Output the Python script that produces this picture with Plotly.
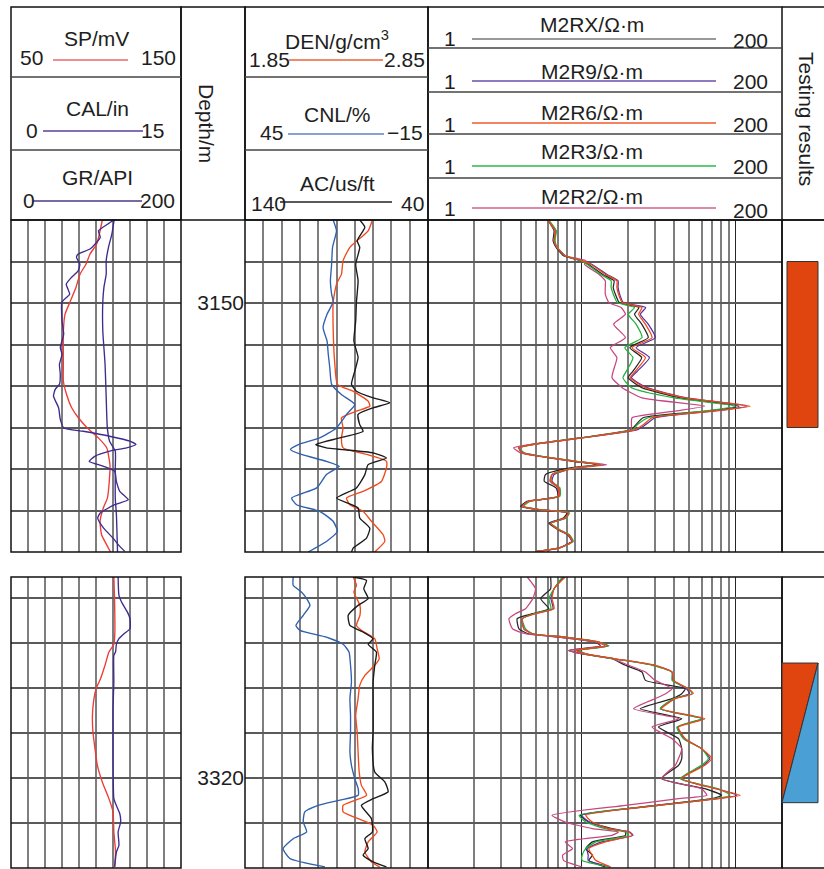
import numpy as np
import plotly.graph_objects as go

W, H = 824, 869
FONT = "Liberation Sans, Arial, Helvetica, sans-serif"
TXT = "#1e1e1e"
FS = 21

# ---------------- upper interval (3146-3162 m) ----------------
up_ticks = [3146, 3148, 3150, 3152, 3154, 3156, 3158, 3160, 3162]
up_label_depth = 3150

up_sp_md = [3146.0, 3146.52, 3147.16, 3147.64, 3148.13, 3148.61, 3149.25, 3149.95, 3150.54, 3151.35,
            3152.96, 3153.76, 3154.41, 3155.05, 3155.53, 3156.02, 3156.5, 3156.98, 3157.79, 3158.6,
            3159.4, 3159.88, 3160.52, 3161.17, 3161.81, 3162.0]
up_sp = [103.7, 102.4, 100.4, 96.5, 94.1, 90.6, 88.2, 84.7, 81.8, 80.8,
         80.8, 80.8, 82.7, 85.7, 89.6, 94.9, 101.4, 106.3, 108.2, 107.8,
         106.7, 104.3, 102.4, 103.3, 107.3, 108.6]

up_gr_md = [3146.0, 3146.19, 3146.52, 3146.84, 3147.16, 3147.4, 3147.64, 3147.8, 3148.13, 3148.45,
            3148.77, 3149.09, 3149.57, 3149.95, 3150.86, 3151.51, 3152.15, 3152.47, 3152.96, 3153.44,
            3153.92, 3154.16, 3154.49, 3155.05, 3155.61, 3156.02, 3156.18, 3156.42, 3156.66, 3156.82,
            3156.98, 3157.14, 3157.38, 3157.63, 3157.87, 3158.11, 3158.6, 3159.08, 3159.48, 3159.72,
            3160.12, 3160.36, 3160.85, 3161.33, 3161.73, 3161.97]
up_gr = [121, 114, 103, 105, 99, 93, 79, 77, 81, 79,
         71, 65, 69, 60, 60, 62, 58, 60, 57, 58,
         57, 52, 50, 56, 58, 62, 85, 116, 140, 147,
         136, 116, 99, 92, 109, 122, 124, 128, 138, 122,
         105, 102, 109, 120, 128, 134]

up_cal_md = [3146.0, 3146.68, 3147.32, 3147.96, 3148.61, 3149.25, 3149.95, 3151.35, 3152.96,
             3154.57, 3156.02, 3156.66, 3157.14, 3157.95, 3159.4, 3160.2, 3162.0]
up_cal = [9.1, 8.9, 8.6, 8.4, 8.4, 8.2, 8.1, 8.1, 8.3, 8.4, 8.5, 8.7, 9.2, 9.2, 9.2, 9.3, 9.4]

up_cnl_md = [3146.0, 3146.52, 3147.32, 3148.13, 3148.93, 3149.57, 3149.95, 3150.54, 3151.19, 3151.83,
             3152.47, 3153.12, 3153.92, 3154.41, 3154.89, 3155.37, 3156.02, 3156.5, 3156.82, 3157.06,
             3157.3, 3157.63, 3157.87, 3158.27, 3158.91, 3159.4, 3159.72, 3160.04, 3160.52, 3161.01,
             3161.49, 3162.0]
up_cnl = [16.1, 15.0, 16.3, 16.6, 17.0, 16.6, 16.1, 18.1, 19.4, 18.1,
          17.7, 17.2, 16.6, 13.4, 9.0, 11.7, 15.0, 20.5, 27.5, 30.1,
          26.5, 18.3, 14.1, 18.3, 21.5, 29.7, 28.1, 20.5, 16.1, 14.7,
          18.3, 24.3]

up_den_md = [3146.0, 3146.52, 3147.32, 3147.96, 3148.61, 3149.09, 3149.95, 3151.35, 3152.96, 3153.92,
             3154.25, 3154.73, 3154.97, 3155.21, 3155.53, 3156.02, 3156.5, 3156.98, 3157.3, 3157.63,
             3157.95, 3158.6, 3159.08, 3159.4, 3159.72, 3160.04, 3160.52, 3161.17, 3161.49, 3162.0]
up_den = [2.546, 2.523, 2.423, 2.386, 2.377, 2.35, 2.332, 2.332, 2.341, 2.355,
          2.44, 2.523, 2.532, 2.459, 2.377, 2.386, 2.377, 2.386, 2.514, 2.623,
          2.623, 2.595, 2.495, 2.405, 2.423, 2.495, 2.541, 2.605, 2.614, 2.559]

up_ac_md = [3146.0, 3146.35, 3147.0, 3147.32, 3148.13, 3148.93, 3149.95, 3150.86, 3151.83, 3152.63,
            3153.28, 3153.92, 3154.25, 3154.57, 3154.81, 3155.05, 3155.37, 3155.86, 3156.18, 3156.5,
            3156.82, 3156.98, 3157.22, 3157.47, 3157.79, 3158.27, 3158.91, 3159.4, 3159.88, 3160.36,
            3160.85, 3161.33, 3161.81, 3162.0]
up_ac = [77.3, 74.5, 78.7, 77.3, 79.5, 78.2, 79.1, 79.5, 80.5, 78.2,
         80.0, 81.8, 79.1, 70.0, 60.9, 70.0, 78.2, 77.3, 75.5, 88.2,
         101.3, 95.5, 70.0, 62.7, 72.7, 74.5, 79.1, 90.0, 78.2, 77.3,
         71.8, 73.6, 80.9, 81.8]

up_res_md = [3146.0, 3146.52, 3147.0, 3147.32, 3147.72, 3147.96, 3148.13, 3148.61, 3148.93, 3149.25,
             3149.57, 3149.98, 3150.22, 3150.54, 3151.02, 3151.67, 3152.15, 3152.63, 3153.28, 3153.6,
             3154.08, 3154.57, 3154.97, 3155.21, 3155.53, 3155.86, 3156.1, 3156.5, 3156.82, 3156.98,
             3157.22, 3157.63, 3157.79, 3157.95, 3158.27, 3158.59, 3158.91, 3159.32, 3159.56, 3159.8,
             3159.96, 3160.12, 3160.36, 3160.61, 3160.93, 3161.17, 3161.49, 3161.81, 3161.97]
up_m2rx = [6.0, 6.6, 6.5, 6.8, 7.6, 9.8, 11.0, 13.6, 16.2, 16.0,
           16.5, 17.5, 23.5, 22, 24.5, 27, 20.5, 24.5, 21.5, 20,
           24.5, 44, 105, 65, 25, 22.5, 21, 9.8, 4.7, 3.9,
           4.1, 8.8, 12.6, 8.4, 5.8, 5.7, 6.8, 7.0, 4.4, 4.0,
           5.2, 8.0, 7.6, 6.1, 7.0, 8.1, 8.6, 7.0, 5.1]
up_m2r9 = [6.0, 6.8, 6.6, 6.9, 7.8, 10.0, 11.6, 14.5, 17.2, 17.2,
           17.6, 18.6, 26, 24, 27, 30, 22.5, 27.5, 23, 21,
           26.5, 48, 118, 72, 30, 26, 23, 10.0, 4.8, 3.9,
           4.2, 9.0, 13.0, 9.0, 6.6, 6.4, 7.1, 7.1, 4.5, 4.1,
           5.3, 8.1, 7.8, 6.3, 7.1, 8.2, 8.6, 7.1, 5.1]
up_m2r6 = [6.0, 6.7, 6.6, 6.9, 7.8, 10.0, 11.4, 14.2, 16.9, 16.9,
           17.3, 18.3, 24.6, 23.4, 25.9, 28.6, 21.2, 25.9, 22.3, 20.6,
           25.9, 47, 124, 70, 28.6, 25.2, 22.3, 10.0, 4.8, 3.9,
           4.1, 9.1, 13.2, 9.1, 6.4, 6.3, 7.1, 7.1, 4.5, 4.1,
           5.3, 8.2, 7.8, 6.3, 7.1, 8.2, 8.7, 7.1, 5.1]
up_m2r3 = [6.1, 6.8, 6.7, 6.9, 7.8, 9.8, 10.8, 13.2, 15.5, 15.5,
           16.0, 17.0, 22, 20, 22.5, 24.6, 19.0, 21.5, 19.5, 18.5,
           21, 40, 100, 62, 27, 23, 21.5, 9.9, 4.8, 3.9,
           4.2, 9.2, 13.3, 9.0, 6.4, 6.3, 7.2, 7.2, 4.6, 4.2,
           5.4, 8.3, 7.9, 6.3, 7.2, 8.3, 8.8, 7.1, 5.1]
up_m2r2 = [6.0, 6.7, 6.6, 6.9, 7.8, 10.6, 10.4, 12.9, 14.2, 14.2,
           14.2, 15.0, 18, 19.2, 16.1, 19.2, 15.3, 16.9, 16.0, 15.7,
           18.3, 24.6, 63, 40, 21.2, 21, 21, 9.9, 4.6, 3.6,
           4.0, 9.3, 14.5, 9.2, 6.4, 6.2, 7.0, 7.0, 4.5, 4.1,
           5.3, 8.2, 7.8, 6.3, 7.1, 8.2, 8.7, 7.1, 5.0]

# ---------------- lower interval (3311-3324 m) ----------------
lo_ticks = [3312, 3314, 3316, 3318, 3320, 3322, 3324]
lo_label_depth = 3320

lo_sp_md = [3311.08, 3312.04, 3313.52, 3314.07, 3314.41, 3315.0, 3315.59, 3316.01, 3316.48, 3317.22,
            3317.96, 3318.7, 3319.44, 3320.18, 3320.92, 3321.51, 3322.4, 3323.29, 3323.95]
lo_sp = [110.5, 110.9, 111.1, 110.5, 107.6, 105.3, 102.7, 100.2, 98.8, 97.9,
         98.2, 99.4, 100.8, 103.7, 107.6, 110.0, 110.5, 111.5, 110.9]

lo_gr_md = [3311.08, 3311.9, 3312.19, 3312.64, 3312.93, 3313.38, 3313.6, 3313.82, 3314.07, 3314.41,
            3314.56, 3315.74, 3316.93, 3317.96, 3319.14, 3320.92, 3321.14, 3321.59, 3321.96, 3322.4,
            3322.99, 3323.29, 3323.95]
lo_gr = [126, 127, 130, 137, 140, 140, 133, 127, 124, 123,
         121, 121, 120, 120, 120, 121, 123, 128, 129, 126,
         127, 124, 122]

lo_cnl_md = [3311.08, 3311.45, 3311.75, 3312.04, 3312.34, 3312.78, 3313.23, 3313.45, 3313.75, 3314.07,
             3314.41, 3315.0, 3315.74, 3316.48, 3317.22, 3317.96, 3318.85, 3319.44, 3320.03, 3320.48,
             3320.77, 3320.99, 3321.22, 3321.51, 3321.96, 3322.4, 3322.7, 3323.14, 3323.58, 3323.95]
lo_cnl = [29.2, 29.2, 26.5, 24.8, 23.7, 25.9, 28.3, 27.0, 18.3, 12.8,
          10.9, 10.4, 10.1, 10.6, 10.4, 10.4, 10.6, 10.1, 9.0, 7.9,
          7.9, 13.9, 21.0, 25.4, 25.9, 24.8, 29.2, 32.5, 30.3, 18.8]

lo_den_md = [3311.08, 3311.45, 3311.75, 3312.34, 3312.78, 3313.23, 3313.45, 3313.82, 3314.26, 3314.71,
             3315.0, 3315.45, 3315.89, 3316.48, 3317.22, 3317.96, 3318.85, 3319.74, 3320.33, 3320.77,
             3321.22, 3321.51, 3321.81, 3322.1, 3322.4, 3322.84, 3323.29, 3323.73, 3323.95]
lo_den = [2.441, 2.459, 2.445, 2.478, 2.478, 2.459, 2.486, 2.559, 2.572, 2.583,
          2.559, 2.505, 2.477, 2.468, 2.455, 2.463, 2.468, 2.474, 2.486, 2.514,
          2.386, 2.386, 2.468, 2.55, 2.572, 2.523, 2.505, 2.541, 2.586]

lo_ac_md = [3311.08, 3311.23, 3311.6, 3312.04, 3312.34, 3312.78, 3313.23, 3313.52, 3313.82, 3314.07,
            3314.41, 3315.0, 3315.74, 3316.78, 3317.96, 3318.7, 3319.74, 3320.18, 3320.62, 3320.92,
            3321.22, 3321.81, 3322.4, 3322.7, 3323.14, 3323.43, 3323.73, 3323.95]
lo_ac = [80.9, 73.6, 75.1, 72.7, 78.2, 83.6, 82.7, 75.5, 70.0, 72.7,
         68.2, 69.1, 70.0, 70.0, 70.0, 70.4, 69.1, 63.6, 61.8, 70.0,
         76.4, 70.9, 70.4, 74.5, 72.7, 75.5, 70.0, 62.7]

lo_res_md = [3311.08, 3311.6, 3312.04, 3312.49, 3312.71, 3312.93, 3313.38, 3313.6, 3313.75, 3313.97,
             3314.14, 3314.34, 3314.49, 3314.71, 3315.0, 3315.3, 3315.67, 3316.04, 3316.26, 3316.48,
             3316.93, 3317.37, 3317.74, 3318.26, 3318.7, 3319.14, 3319.44, 3320.03, 3320.48, 3320.77,
             3320.92, 3321.22, 3321.66, 3321.96, 3322.25, 3322.4, 3322.55, 3322.84, 3323.14, 3323.43,
             3323.66, 3323.95]
lo_m2rx = [6.27, 6.27, 5.4, 6.1, 4.8, 3.8, 3.9, 4.5, 7.1, 12.3,
           13.2, 8.2, 10.05, 15.7, 19.2, 24.6, 25.9, 47, 44.6, 38.6,
           24, 44.6, 31.5, 42.5, 44.6, 44.6, 42.5, 33.0, 63, 81,
           70, 30.1, 9.8, 11.1, 15.7, 19.2, 19.2, 11.7, 10.6, 11.7,
           11.1, 14.2]
lo_m2r9 = [7.6, 6.6, 6.3, 6.5, 4.9, 4.1, 4.2, 4.8, 7.8, 12.9,
           14.8, 9.3, 10.6, 16.3, 29.5, 38.6, 39, 48, 50, 40,
           32.5, 61, 42, 46.5, 60, 68, 61.5, 44, 75, 102,
           76, 31.5, 10.0, 11.2, 14.8, 20.5, 21.5, 13.5, 10.8, 11.0,
           11.0, 15.3]
lo_m2r6 = [7.8, 6.6, 6.4, 6.6, 5.0, 4.1, 4.2, 4.8, 7.8, 12.9,
           14.6, 9.1, 10.6, 16.5, 30.0, 38.6, 39.5, 49.3, 53.0, 40.5,
           33.0, 63.0, 42.5, 47.0, 60.0, 70.0, 63.0, 44.6, 73.5, 107,
           77, 31.5, 10.6, 11.7, 15.0, 20.2, 21.2, 14.2, 11.1, 11.7,
           12.3, 15.3]
lo_m2r3 = [7.46, 6.6, 6.1, 6.3, 4.9, 4.1, 4.3, 4.8, 7.8, 12.9,
           15.0, 9.6, 10.6, 16.1, 28.6, 38.6, 38.6, 49.3, 52, 39.5,
           32.3, 60, 41.5, 45.8, 60, 66.5, 60, 43.6, 77, 91.9,
           73.5, 31.5, 9.6, 10.6, 14.2, 19.2, 20.2, 12.3, 10.6, 10.05,
           10.05, 15.3]
lo_m2r2 = [4.42, 5.0, 4.8, 4.3, 3.7, 3.36, 3.54, 4.3, 7.1, 12.3,
           14.2, 8.2, 10.05, 15.7, 20.2, 25.9, 30, 38.6, 35, 30,
           21.7, 42.5, 28.6, 38.6, 44.6, 42.5, 40.5, 33, 60, 65,
           42.5, 19.2, 6.4, 7.8, 11.7, 17.3, 15.7, 7.8, 8.7, 7.5,
           7.6, 10.05]

# testing results: (depth axis, top, base, kind)
test_results = [("y", 3148.0, 3156.0, "oil"), ("y2", 3314.9, 3321.1, "oil-water")]

# curve colours
C_SP, C_CAL, C_GR = "#ee3b36", "#3f2b8f", "#3f2b8f"
C_DEN, C_CNL, C_AC = "#f04a1c", "#2f5fae", "#1a1a1a"
C_RX, C_R9, C_R6, C_R3, C_R2 = "#262626", "#5531a3", "#f2461a", "#1fb13a", "#c8457f"
C_OIL, C_WATER = "#e0440f", "#4a9fd4"
VGRID, HGRID, BORDER = "#7e7e7e", "#5a5a5a", "#111111"


def X(p):
    return p / W


def Y(p):
    return 1 - p / H


# track columns and section rows (pixels)
T1, TD, T2, T3, T4 = (11, 181), (181, 245), (245, 428), (428, 782), (782, 824)
HEAD, UP, LO = (7, 220), (220, 552), (577, 868)

fig = go.Figure()


def curve(x, y, xa, ya, color, width=1.35):
    fig.add_trace(go.Scatter(x=x, y=y, xaxis=xa, yaxis=ya, mode="lines",
                             line=dict(color=color, width=width, shape="spline", smoothing=0.5),
                             hoverinfo="skip", showlegend=False))


# track 1
curve(up_sp, up_sp_md, "x", "y", C_SP)
curve(up_cal, up_cal_md, "x2", "y", C_CAL)
curve(up_gr, up_gr_md, "x3", "y", C_GR)
curve(lo_sp, lo_sp_md, "x", "y2", C_SP)
curve(lo_gr, lo_gr_md, "x3", "y2", C_GR)
# track 2
curve(up_cnl, up_cnl_md, "x5", "y", C_CNL)
curve(up_ac, up_ac_md, "x6", "y", C_AC)
curve(up_den, up_den_md, "x4", "y", C_DEN)
curve(lo_den, lo_den_md, "x4", "y2", C_DEN)
curve(lo_cnl, lo_cnl_md, "x5", "y2", C_CNL)
curve(lo_ac, lo_ac_md, "x6", "y2", C_AC)
# track 3
for md, series, ya in [(up_res_md, [up_m2rx, up_m2r9, up_m2r2, up_m2r3, up_m2r6], "y"),
                       (lo_res_md, [lo_m2rx, lo_m2r9, lo_m2r2, lo_m2r3, lo_m2r6], "y2")]:
    for vals, col in zip(series, [C_RX, C_R9, C_R2, C_R3, C_R6]):
        curve(vals, md, "x7", ya, col, 1.25)

hidden = dict(showticklabels=False, ticks="", zeroline=False, showline=False)
res_minor = [2, 3, 4, 5, 6, 7, 8, 9, 20, 30, 40, 50, 60, 70, 80, 90, 200]


def depth_axis(dom, rng, ticks, label_depth):
    return dict(domain=[Y(dom[1]), Y(dom[0])], range=rng, anchor="x4", side="left",
                tickmode="array", tickvals=ticks,
                ticktext=[str(t) if t == label_depth else "" for t in ticks],
                ticks="", showline=False, zeroline=False, showgrid=True,
                gridcolor=HGRID, gridwidth=1.5,
                tickfont=dict(family=FONT, size=FS, color=TXT))


fig.update_layout(
    width=W, height=H, margin=dict(l=0, r=0, t=0, b=0),
    paper_bgcolor="white", plot_bgcolor="white", showlegend=False,
    font=dict(family=FONT, color=TXT),
    xaxis=dict(domain=[X(T1[0]), X(T1[1])], range=[50, 150], anchor="y", tick0=50, dtick=10,
               showgrid=True, gridcolor=VGRID, gridwidth=1.7, **hidden),
    xaxis2=dict(overlaying="x", range=[0, 15], visible=False),
    xaxis3=dict(overlaying="x", range=[0, 200], visible=False),
    xaxis4=dict(domain=[X(T2[0]), X(T2[1])], range=[1.85, 2.85], anchor="y", tick0=1.85, dtick=0.1,
                showgrid=True, gridcolor=VGRID, gridwidth=1.7, **hidden),
    xaxis5=dict(overlaying="x4", range=[45, -15], visible=False),
    xaxis6=dict(overlaying="x4", range=[140, 40], visible=False),
    xaxis7=dict(domain=[X(T3[0]), X(T3[1])], type="log", range=[0, np.log10(200)], anchor="y",
                tickmode="array", tickvals=[10, 100], showgrid=True, gridcolor="#262626", gridwidth=1.3,
                minor=dict(tickmode="array", tickvals=res_minor, showgrid=True,
                           gridcolor=VGRID, gridwidth=1.7, ticks=""),
                **hidden),
    yaxis=depth_axis(UP, [3162, 3146], up_ticks, up_label_depth),
    yaxis2=depth_axis(LO, [3324, 3311.08], lo_ticks, lo_label_depth),
)

shapes = []


def line(x0, y0, x1, y1, color=BORDER, width=1.5):
    shapes.append(dict(type="line", xref="paper", yref="paper", x0=X(x0), y0=Y(y0), x1=X(x1), y1=Y(y1),
                       line=dict(color=color, width=width), layer="above"))


def box(x0, y0, x1, y1, width=1.5):
    shapes.append(dict(type="rect", xref="paper", yref="paper", x0=X(x0), y0=Y(y0), x1=X(x1), y1=Y(y1),
                       line=dict(color=BORDER, width=width), fillcolor="rgba(0,0,0,0)", layer="above"))


# header boxes
for t in (T1, TD, T2, T3):
    box(t[0], HEAD[0], t[1], HEAD[1])
line(T4[0], HEAD[0], T4[1], HEAD[0])
line(T4[0], HEAD[1], T4[1], HEAD[1])
for yy in (77, 150):
    line(T1[0], yy, T1[1], yy, "#444444", 1.4)
    line(T2[0], yy, T2[1], yy, "#444444", 1.4)
for yy in (48, 92, 134, 178):
    line(T3[0], yy, T3[1], yy, "#444444", 1.4)

# track frames
for sec in (UP, LO):
    for t in (T1, T2, T3):
        box(t[0], sec[0], t[1], sec[1])
    line(T4[0], sec[0], T4[1], sec[0])
    line(T4[0], sec[1], T4[1], sec[1])
    line(T4[0], sec[0], T4[0], sec[1])

# header curve keys
keys = [((53, 128), 60, "#e86a6a"), ((43, 143), 131, "#5b3e9e"), ((33, 142), 201, "#4a3a8a"),
        ((289, 383), 60, "#e8653a"), ((288, 384), 134, "#5f84c4"), ((280, 392), 202, "#222222"),
        ((472, 716), 39, "#777777"), ((472, 716), 81, "#6a4faa"), ((472, 716), 123, "#f05a2a"),
        ((472, 716), 166, "#2db84a"), ((472, 716), 208, "#d0628f")]
for (xa, xb), yy, col in keys:
    line(xa, yy, xb, yy, col, 1.6)

# testing results column
for ya, top, base, kind in test_results:
    if kind == "oil":
        shapes.append(dict(type="rect", xref="paper", yref=ya, x0=X(787), x1=X(818), y0=top, y1=base,
                           fillcolor=C_OIL, line=dict(color="#333333", width=1), layer="above"))
    else:
        xl, xr = X(T4[0]), X(818)
        shapes.append(dict(type="path", xref="paper", yref=ya,
                           path=f"M {xl},{top} L {xr},{top} L {xl},{base} Z",
                           fillcolor=C_OIL, line=dict(color="#333333", width=1), layer="above"))
        shapes.append(dict(type="path", xref="paper", yref=ya,
                           path=f"M {xr},{top} L {xr},{base} L {xl},{base} Z",
                           fillcolor=C_WATER, line=dict(color="#333333", width=1), layer="above"))

fig.update_layout(shapes=shapes)

labels = [
    ("SP/mV", 96, 38), ("50", 32, 57), ("150", 158, 57),
    ("CAL/in", 97, 108), ("0", 32, 130), ("15", 152, 130),
    ("GR/API", 97, 178), ("0", 29, 201), ("200", 157, 201),
    ("DEN/g/cm<sup>3</sup>", 337, 40), ("1.85", 269, 59), ("2.85", 404, 59),
    ("CNL/%", 337, 115), ("45", 271, 133), ("\u221215", 405, 133),
    ("AC/us/ft", 337, 184), ("140", 268, 203), ("40", 412, 203),
    ("M2RX/\u03a9\u00b7m", 592, 25), ("1", 450, 39), ("200", 750, 40),
    ("M2R9/\u03a9\u00b7m", 592, 71), ("1", 450, 81), ("200", 750, 82),
    ("M2R6/\u03a9\u00b7m", 592, 112), ("1", 450, 124), ("200", 750, 124),
    ("M2R3/\u03a9\u00b7m", 592, 151), ("1", 450, 166), ("200", 750, 166),
    ("M2R2/\u03a9\u00b7m", 592, 197), ("1", 450, 209), ("200", 750, 210),
]
ann = [dict(text=t, x=X(x), y=Y(y), xref="paper", yref="paper", showarrow=False,
            xanchor="center", yanchor="middle", font=dict(family=FONT, size=FS, color=TXT))
       for t, x, y in labels]
ann.append(dict(text="Depth/m", x=X(206), y=Y(123), xref="paper", yref="paper", showarrow=False,
                textangle=90, xanchor="center", yanchor="middle",
                font=dict(family=FONT, size=FS, color=TXT)))
ann.append(dict(text="Testing results", x=X(806), y=Y(119), xref="paper", yref="paper", showarrow=False,
                textangle=90, xanchor="center", yanchor="middle",
                font=dict(family=FONT, size=FS, color=TXT)))
fig.update_layout(annotations=ann)

fig.write_html("out.html")
